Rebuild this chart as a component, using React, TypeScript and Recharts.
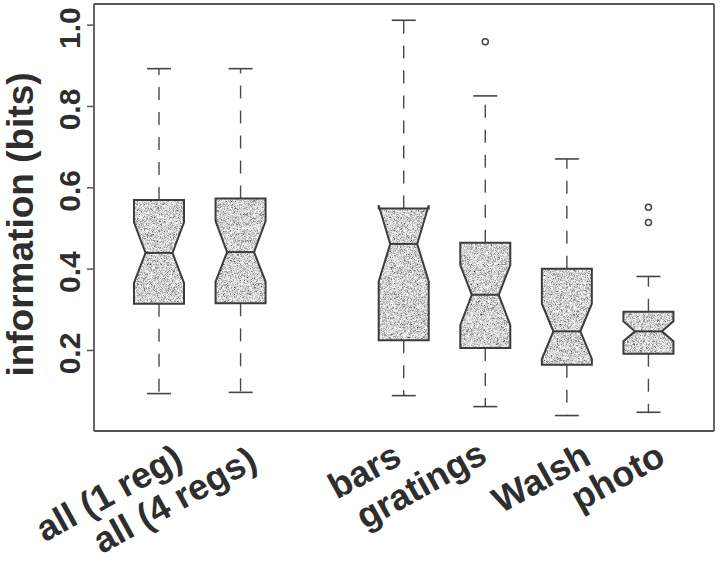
import React from "react";
import { ComposedChart, Bar, XAxis, YAxis } from "recharts";

// ---- data ----
const categories = ["all (1 reg)", "all (4 regs)", "", "bars", "gratings", "Walsh", "photo"];
const lowWhisker = [0.094, 0.097, null, 0.089, 0.062, 0.040, 0.048];
const lowerQuartile = [0.315, 0.316, null, 0.225, 0.206, 0.165, 0.192];
const notchLow = [0.366, 0.369, null, 0.370, 0.262, 0.179, 0.223];
const median = [0.440, 0.442, null, 0.462, 0.337, 0.247, 0.247];
const notchHigh = [0.515, 0.518, null, 0.557, 0.410, 0.315, 0.272];
const upperQuartile = [0.570, 0.574, null, 0.549, 0.465, 0.401, 0.295];
const highWhisker = [0.893, 0.893, null, 1.012, 0.826, 0.671, 0.382];
const outliers: number[][] = [[], [], [], [], [0.959], [], [0.552, 0.515]];
const yTicks = [0.2, 0.4, 0.6, 0.8, 1.0];
const yTitle = "information (bits)";

// ---- styling ----
const FONT = "'Liberation Sans', Arial, Helvetica, sans-serif";
const TEXT = "#2e2e2e";
const LINE = "#3c3c3c";
const FRAME = { stroke: "#555", strokeWidth: 1.8 };
const LABEL_NUDGE: Record<string, [number, number]> = {
  "all (1 reg)": [26, 34],
  "all (4 regs)": [19, 36],
  bars: [0, 32],
  gratings: [4, 30],
  Walsh: [26, 32],
  photo: [19, 32],
};

const data = categories.map((name, i) => ({
  name,
  lo: lowWhisker[i],
  q1: lowerQuartile[i],
  nLo: notchLow[i],
  med: median[i],
  nHi: notchHigh[i],
  q3: upperQuartile[i],
  hi: highWhisker[i],
  out: outliers[i],
}));

const BoxShape = (props: any) => {
  const { x, y, width, height, payload } = props;
  if (!payload || payload.lo == null || payload.hi == null || height == null) return null;
  const top = Math.min(y, y + height);
  const bot = Math.max(y, y + height);
  const span = payload.hi - payload.lo;
  const py = (v: number) => bot - ((v - payload.lo) / span) * (bot - top);
  const cx = x + width / 2;
  const hw = width / 2;
  const nw = hw * 0.54;
  const cap = 12;
  const pts: [number, number][] = [
    [cx - hw, py(payload.q1)],
    [cx + hw, py(payload.q1)],
    [cx + hw, py(payload.nLo)],
    [cx + nw, py(payload.med)],
    [cx + hw, py(payload.nHi)],
    [cx + hw, py(payload.q3)],
    [cx - hw, py(payload.q3)],
    [cx - hw, py(payload.nHi)],
    [cx - nw, py(payload.med)],
    [cx - hw, py(payload.nLo)],
  ];
  const ptsStr = pts.map((p) => `${p[0]},${p[1]}`).join(" ");
  return (
    <g>
      <line x1={cx} x2={cx} y1={py(payload.q3)} y2={py(payload.hi)} stroke="#4a4a4a" strokeWidth={1.4} strokeDasharray="13 12" />
      <line x1={cx} x2={cx} y1={py(payload.q1)} y2={py(payload.lo)} stroke="#4a4a4a" strokeWidth={1.4} strokeDasharray="13 12" />
      <line x1={cx - cap} x2={cx + cap} y1={py(payload.hi)} y2={py(payload.hi)} stroke="#444" strokeWidth={1.6} />
      <line x1={cx - cap} x2={cx + cap} y1={py(payload.lo)} y2={py(payload.lo)} stroke="#444" strokeWidth={1.6} />
      <polygon points={ptsStr} fill="#000" filter="url(#stipple)" />
      <polygon points={ptsStr} fill="none" stroke={LINE} strokeWidth={2} strokeLinejoin="miter" />
      <line x1={cx - nw} x2={cx + nw} y1={py(payload.med)} y2={py(payload.med)} stroke={LINE} strokeWidth={2} />
      {(payload.out || []).map((v: number, k: number) => (
        <circle key={k} cx={cx} cy={py(v)} r={3} fill="none" stroke="#444" strokeWidth={1.5} />
      ))}
    </g>
  );
};

const YTick = (props: any) => {
  const { x, y, payload } = props;
  const bx = x - 5;
  const by = y + 3;
  return (
    <text
      x={bx}
      y={by}
      textAnchor="middle"
      transform={`rotate(-90 ${bx} ${by})`}
      fontFamily={FONT}
      fontWeight="bold"
      fontSize={30}
      fill={TEXT}
    >
      {Number(payload.value).toFixed(1)}
    </text>
  );
};

const XTick = (props: any) => {
  const { x, y, payload } = props;
  const label = payload && payload.value;
  if (!label) return null;
  const n = LABEL_NUDGE[label] || [0, 32];
  const ex = x + n[0];
  const ey = y + n[1];
  return (
    <text
      x={ex}
      y={ey}
      textAnchor="end"
      transform={`rotate(-29 ${ex} ${ey})`}
      fontFamily={FONT}
      fontWeight="bold"
      fontSize={36}
      fill={TEXT}
    >
      {label}
    </text>
  );
};

const TitleLabel = (props: any) => {
  const vb = props.viewBox || { x: 0, y: 4, width: 94, height: 427 };
  const tx = vb.x + 33;
  const ty = vb.y + vb.height / 2 + 7;
  return (
    <text
      x={tx}
      y={ty}
      textAnchor="middle"
      transform={`rotate(-90 ${tx} ${ty})`}
      fontFamily={FONT}
      fontWeight="bold"
      fontSize={37}
      fill={TEXT}
    >
      {yTitle}
    </text>
  );
};

const DOMAIN: [number, number] = [0.002, 1.052];

export default function App() {
  return (
    <div style={{ position: "absolute", left: 0, top: 0, width: 720, height: 562, background: "#fff" }}>
      <ComposedChart width={720} height={562} data={data} margin={{ top: 3, right: 5, bottom: 0, left: 0 }}>
        <defs>
          <filter id="stipple" x="0" y="0" width="100%" height="100%" filterUnits="objectBoundingBox">
            <feTurbulence type="fractalNoise" baseFrequency="1.7" numOctaves="1" seed="5" result="t" />
            <feColorMatrix in="t" type="matrix" values="1 0 0 0 0  1 0 0 0 0  1 0 0 0 0  0 0 0 0 1" result="g" />
            <feComponentTransfer in="g" result="g2">
              <feFuncR type="linear" slope="2.0" intercept="-0.35" />
              <feFuncG type="linear" slope="2.0" intercept="-0.35" />
              <feFuncB type="linear" slope="2.0" intercept="-0.35" />
            </feComponentTransfer>
            <feComposite in="g2" in2="SourceGraphic" operator="in" />
          </filter>
        </defs>
        <XAxis
          dataKey="name"
          type="category"
          interval={0}
          height={131}
          padding={{ left: 24, right: 25 }}
          tickLine={false}
          tickSize={0}
          tickMargin={0}
          axisLine={FRAME}
          tick={<XTick />}
        />
        <XAxis
          xAxisId="top"
          dataKey="name"
          orientation="top"
          height={1}
          interval={0}
          tick={false}
          tickLine={false}
          axisLine={FRAME}
        />
        <YAxis
          type="number"
          domain={DOMAIN}
          allowDataOverflow
          ticks={yTicks}
          width={94}
          tickSize={7}
          tickLine={{ stroke: "#555", strokeWidth: 1.5 }}
          axisLine={FRAME}
          tick={<YTick />}
          label={<TitleLabel />}
        />
        <YAxis
          yAxisId="right"
          orientation="right"
          type="number"
          domain={DOMAIN}
          allowDataOverflow
          ticks={yTicks}
          width={1}
          tick={false}
          tickLine={false}
          axisLine={FRAME}
        />
        <Bar
          dataKey={(d: any) => (d.lo == null ? null : [d.lo, d.hi])}
          barSize={50}
          isAnimationActive={false}
          shape={<BoxShape />}
          activeBar={false}
        />
      </ComposedChart>
    </div>
  );
}
